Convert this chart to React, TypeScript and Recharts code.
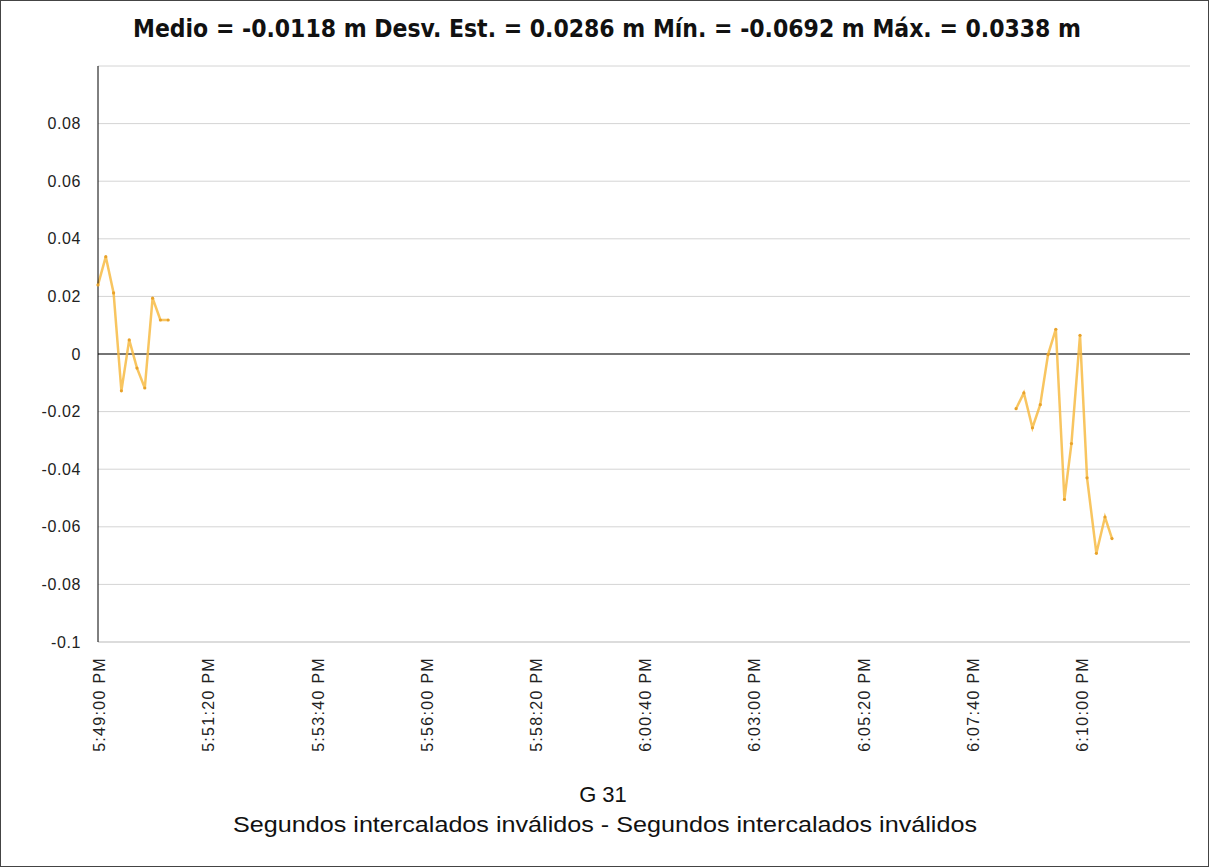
import { LineChart, Line, XAxis, YAxis, CartesianGrid, ReferenceLine } from 'recharts';

// seconds after 5:49:00 PM
const leftTimes = [-6, 4, 14, 24, 34, 44, 54, 64, 74, 84];
const leftValues = [0.024, 0.0338, 0.0212, -0.0128, 0.0049, -0.0049, -0.0118, 0.0194, 0.0118, 0.0118];
const rightTimes = [1171, 1181, 1192, 1202, 1212, 1222, 1233, 1242, 1253, 1262, 1274, 1285, 1294];
const rightValues = [-0.019, -0.0135, -0.0256, -0.0176, -0.0002, 0.0086, -0.0505, -0.0311, 0.0065, -0.043, -0.0692, -0.0566, -0.0641];

const xTicks = [0, 140, 280, 420, 560, 700, 840, 980, 1120, 1260];
const yTicks = [-0.1, -0.08, -0.06, -0.04, -0.02, 0, 0.02, 0.04, 0.06, 0.08];

const TITLE = 'Medio = -0.0118 m Desv. Est. = 0.0286 m Mín. = -0.0692 m Máx. = 0.0338 m';
const SERIES = 'G 31';
const SUBTITLE = 'Segundos intercalados inválidos - Segundos intercalados inválidos';

const data = [
  ...leftTimes.map((t, i) => ({ t, v: leftValues[i] as number | null })),
  { t: 600, v: null },
  ...rightTimes.map((t, i) => ({ t, v: rightValues[i] as number | null })),
];

const fmtTime = (s: number) => {
  const total = 17 * 3600 + 49 * 60 + s;
  const h = Math.floor(total / 3600);
  const m = Math.floor((total % 3600) / 60);
  const sec = total % 60;
  return `${h - 12}:${String(m).padStart(2, '0')}:${String(sec).padStart(2, '0')} PM`;
};

const font = '"Liberation Sans", Arial, sans-serif';

const TimeTick = (props: any) => {
  const { x, y, payload } = props;
  return (
    <text
      transform={`translate(${x - 3},${y + 7}) rotate(-90)`}
      textAnchor="end"
      dy="0.35em"
      fontSize={16}
      letterSpacing={1.3}
      fill="#222"
      fontFamily={font}
    >
      {fmtTime(payload.value)}
    </text>
  );
};

export default function App() {
  return (
    <div
      style={{
        position: 'absolute',
        left: 0,
        top: 0,
        width: 1209,
        height: 867,
        boxSizing: 'border-box',
        border: '1px solid #444',
        background: '#fff',
      }}
    >
      <LineChart width={1207} height={865} data={data} margin={{ top: 65, right: 18, bottom: 0, left: 0 }}>
        <CartesianGrid vertical={false} stroke="#d4d4d4" />
        <XAxis
          dataKey="t"
          type="number"
          domain={[-6, 1394]}
          ticks={xTicks}
          height={224}
          tick={<TimeTick />}
          tickLine={false}
          axisLine={{ stroke: '#cfcfcf' }}
          interval={0}
        />
        <YAxis
          type="number"
          domain={[-0.1, 0.1]}
          ticks={yTicks}
          width={97}
          tickLine={false}
          tickMargin={11}
          axisLine={{ stroke: '#000' }}
          tickFormatter={(v: number) => String(Math.round(v * 100) / 100)}
          tick={{ fontSize: 16, fill: '#222', fontFamily: font, letterSpacing: 0.6 }}
        />
        <ReferenceLine y={0} stroke="#000" strokeWidth={1.2} />
        <Line
          dataKey="v"
          type="linear"
          stroke="#f7bb44"
          strokeOpacity={0.85}
          strokeWidth={2.5}
          connectNulls={false}
          dot={{ r: 1.6, fill: '#e8a22a', stroke: 'none' }}
          isAnimationActive={false}
        />
      </LineChart>
      <svg width={1207} height={865} style={{ position: 'absolute', left: 0, top: 0, pointerEvents: 'none' }}>
        <text
          x={132}
          y={36}
          textLength={948}
          lengthAdjust="spacingAndGlyphs"
          fontSize={25}
          fontWeight="bold"
          fontFamily='"Liberation Sans Narrow", "DejaVu Sans Condensed", sans-serif'
          fill="#111"
        >
          {TITLE}
        </text>
        <text x={602} y={801} textAnchor="middle" fontSize={22} fontFamily={font} fill="#111">
          {SERIES}
        </text>
        <text
          x={232}
          y={831}
          textLength={744}
          lengthAdjust="spacingAndGlyphs"
          fontSize={22}
          fontFamily={font}
          fill="#111"
        >
          {SUBTITLE}
        </text>
      </svg>
    </div>
  );
}
